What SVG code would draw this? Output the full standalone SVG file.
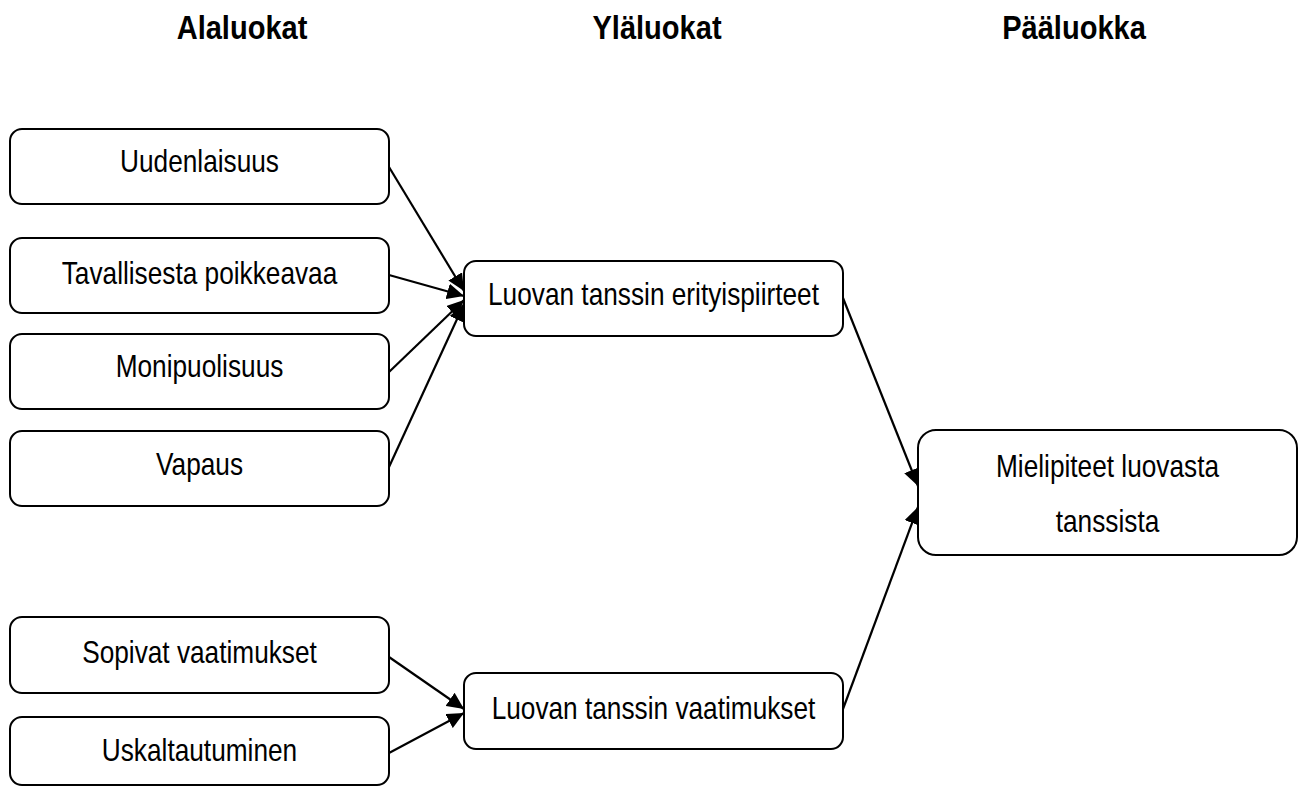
<svg xmlns="http://www.w3.org/2000/svg" width="1305" height="787" viewBox="0 0 1305 787">
  <style>
    .box { fill: #ffffff; stroke: #000000; stroke-width: 2; }
    .lbl { font-family: "Liberation Sans", Arial, sans-serif; font-size: 32px; fill: #000000; text-anchor: middle; }
    .hdr { font-family: "Liberation Sans", Arial, sans-serif; font-size: 33px; font-weight: bold; fill: #000000; text-anchor: middle; }
    .edge { stroke: #000000; stroke-width: 2.2; fill: none; marker-end: url(#arrow); }
  </style>
  <defs>
    <marker id="arrow" markerUnits="userSpaceOnUse" markerWidth="18" markerHeight="16" refX="17" refY="8" orient="auto">
      <path d="M0,0 L17,8 L0,16 Z" fill="#000000"/>
    </marker>
  </defs>
  <rect width="1305" height="787" fill="#ffffff"/>

  <!-- column headings -->
  <g id="headings">
    <text class="hdr" transform="translate(242,39) scale(0.88,1)">Alaluokat</text>
    <text class="hdr" transform="translate(657,39) scale(0.88,1)">Yläluokat</text>
    <text class="hdr" transform="translate(1074,39) scale(0.88,1)">Pääluokka</text>
  </g>

  <!-- connectors -->
  <g id="connectors">
    <line class="edge" x1="389" y1="167" x2="464" y2="291"/>
    <line class="edge" x1="389" y1="275" x2="464" y2="296"/>
    <line class="edge" x1="389" y1="372" x2="464" y2="300"/>
    <line class="edge" x1="389" y1="467" x2="464" y2="304"/>
    <line class="edge" x1="389" y1="657" x2="464" y2="709"/>
    <line class="edge" x1="389" y1="753" x2="464" y2="713"/>
    <line class="edge" x1="843" y1="298" x2="918" y2="486"/>
    <line class="edge" x1="843" y1="709" x2="918" y2="507"/>
  </g>

  <!-- subcategories -->
  <g id="uudenlaisuus">
    <rect class="box" x="10" y="129" width="379" height="75" rx="12"/>
    <text class="lbl" transform="translate(199.5,172) scale(0.82,1)">Uudenlaisuus</text>
  </g>
  <g id="tavallisesta">
    <rect class="box" x="10" y="238" width="379" height="75" rx="12"/>
    <text class="lbl" transform="translate(199.5,284) scale(0.82,1)">Tavallisesta poikkeavaa</text>
  </g>
  <g id="monipuolisuus">
    <rect class="box" x="10" y="334" width="379" height="75" rx="12"/>
    <text class="lbl" transform="translate(199.5,377) scale(0.82,1)">Monipuolisuus</text>
  </g>
  <g id="vapaus">
    <rect class="box" x="10" y="431" width="379" height="75" rx="12"/>
    <text class="lbl" transform="translate(199.5,475) scale(0.82,1)">Vapaus</text>
  </g>
  <g id="sopivat">
    <rect class="box" x="10" y="617" width="379" height="76" rx="12"/>
    <text class="lbl" transform="translate(199.5,663) scale(0.82,1)">Sopivat vaatimukset</text>
  </g>
  <g id="uskaltautuminen">
    <rect class="box" x="10" y="717" width="379" height="68" rx="12"/>
    <text class="lbl" transform="translate(199.5,761) scale(0.82,1)">Uskaltautuminen</text>
  </g>

  <!-- upper categories -->
  <g id="erityispiirteet">
    <rect class="box" x="464" y="261" width="379" height="75" rx="12"/>
    <text class="lbl" transform="translate(653.5,305) scale(0.82,1)">Luovan tanssin erityispiirteet</text>
  </g>
  <g id="vaatimukset">
    <rect class="box" x="464" y="673" width="379" height="76" rx="12"/>
    <text class="lbl" transform="translate(653.5,719) scale(0.82,1)">Luovan tanssin vaatimukset</text>
  </g>

  <!-- main category -->
  <g id="mielipiteet">
    <rect class="box" x="918" y="430" width="379" height="125" rx="18"/>
    <text class="lbl" transform="translate(1107.5,477) scale(0.82,1)">Mielipiteet luovasta</text>
    <text class="lbl" transform="translate(1107.5,532) scale(0.82,1)">tanssista</text>
  </g>
</svg>
